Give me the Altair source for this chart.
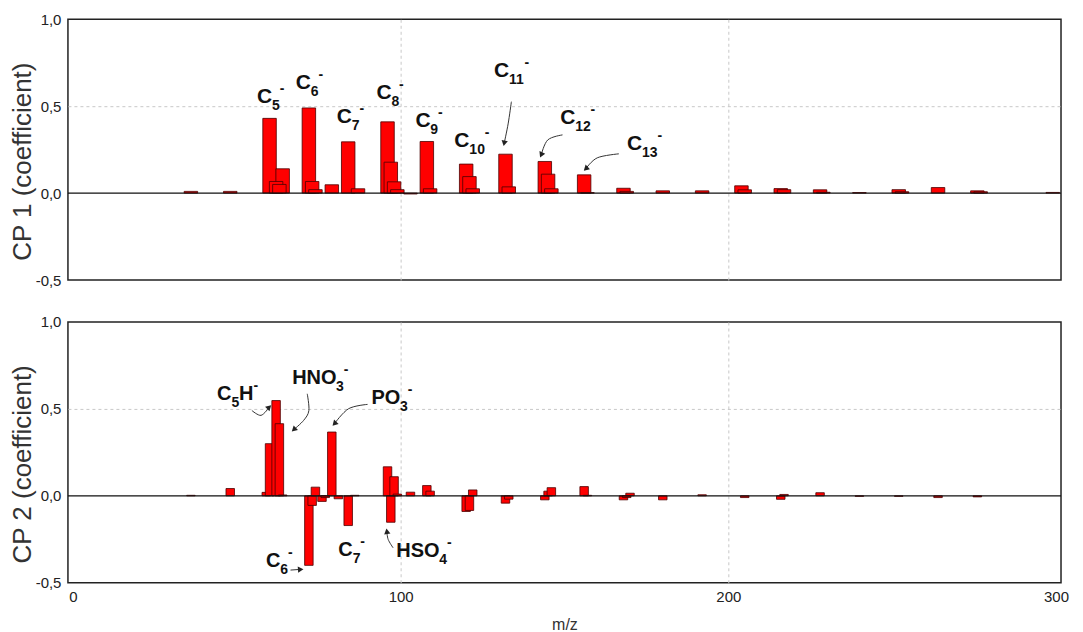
import math
import altair as alt
import pandas as pd

# ---------------- data ----------------
mz_cp1 = [36, 48, 60, 64, 62, 63, 72, 73, 74, 79, 84, 87, 96, 97, 98, 99, 103,
          108, 109, 120, 121, 122, 132, 133, 144, 145, 146, 156, 157, 168, 169,
          180, 192, 204, 205, 216, 217, 228, 229, 240, 252, 253, 264, 276, 277, 299]
cp1 = [0.01, 0.01, 0.43, 0.14, 0.067, 0.05, 0.49, 0.067, 0.02, 0.048, 0.295, 0.025,
       0.41, 0.178, 0.065, 0.02, -0.005, 0.297, 0.025, 0.167, 0.095, 0.025, 0.224,
       0.036, 0.182, 0.109, 0.025, 0.105, 0.003, 0.028, 0.01, 0.013, 0.013, 0.042,
       0.019, 0.026, 0.02, 0.019, 0.005, 0.003, 0.02, 0.008, 0.032, 0.013, 0.008, 0.004]

mz_cp2 = [36, 48, 59, 60, 62, 63, 64, 72, 73, 74, 76, 77, 79, 81, 84, 86,
          96, 97, 98, 99, 103, 108, 109, 120, 121, 122, 132, 133, 144, 145, 146,
          156, 157, 168, 169, 170, 180, 192, 205, 216, 217, 228, 240, 252, 264, 276]
cp2 = [0.003, 0.042, 0.02, 0.30, 0.548, 0.415, 0.005, -0.40, -0.055, 0.05, -0.032,
       -0.01, 0.367, -0.017, -0.171, 0.003, 0.167, -0.152, 0.11, 0.01, 0.021, 0.059,
       0.027, -0.09, -0.084, 0.034, -0.042, -0.019, -0.023, 0.027, 0.047, 0.053,
       0.003, -0.023, -0.01, 0.015, -0.023, 0.006, -0.01, -0.02, 0.008, 0.018,
       -0.003, -0.003, -0.01, -0.006]

x_ticks = [0, 100, 200, 300]
y_ticks = [-0.5, 0.0, 0.5, 1.0]

# annotations: (anchor m/z, anchor value, parts) ; b=base, s=subscript, p=superscript
top_labels = [
    (56.2, 0.516, [("C", "b"), ("5", "s"), ("-", "p")]),
    (68.0, 0.599, [("C", "b"), ("6", "s"), ("-", "p")]),
    (80.5, 0.404, [("C", "b"), ("7", "s"), ("-", "p")]),
    (92.6, 0.540, [("C", "b"), ("8", "s"), ("-", "p")]),
    (104.5, 0.383, [("C", "b"), ("9", "s"), ("-", "p")]),
    (116.4, 0.264, [("C", "b"), ("10", "s"), ("-", "p")]),
    (128.5, 0.670, [("C", "b"), ("11", "s"), ("-", "p")]),
    (148.7, 0.398, [("C", "b"), ("12", "s"), ("-", "p")]),
    (169.1, 0.249, [("C", "b"), ("13", "s"), ("-", "p")]),
]
bottom_labels = [
    (44.0, 0.553, [("C", "b"), ("5", "s"), ("H", "b"), ("-", "p")]),
    (66.9, 0.644, [("HNO", "b"), ("3", "s"), ("-", "p")]),
    (91.1, 0.530, [("PO", "b"), ("3", "s"), ("-", "p")]),
    (58.9, -0.407, [("C", "b"), ("6", "s"), ("-", "p")]),
    (81.0, -0.347, [("C", "b"), ("7", "s"), ("-", "p")]),
    (98.7, -0.353, [("HSO", "b"), ("4", "s"), ("-", "p")]),
]
top_arrows = [
    [(133.8, 0.526), (132.8, 0.398), (131.6, 0.287)],
    [(149.4, 0.335), (144.9, 0.306), (142.9, 0.220)],
    [(166.6, 0.226), (160.0, 0.203), (156.5, 0.140)],
]
bottom_arrows = [
    [(54.6, 0.491), (57.4, 0.463), (59.9, 0.510)],
    [(71.5, 0.587), (72.0, 0.491), (70.4, 0.434), (67.4, 0.381)],
    [(89.9, 0.526), (84.1, 0.501), (79.8, 0.415)],
    [(66.4, -0.427), (69.5, -0.423)],
    [(97.7, -0.299), (96.2, -0.251), (95.8, -0.204)],
]

# ---------------- layout ----------------
W, H = 994, 261
PXX = W / 300.0
PXY = H / 1.5
SUB = 14
CW = {"C": 0.722, "H": 0.722, "N": 0.722, "O": 0.778, "P": 0.667, "S": 0.667, "-": 0.333}
FONT = "Liberation Sans"


def text_w(t, size):
    return sum(CW.get(c, 0.556) for c in t) * size


def label_df(labels, base):
    rows = []
    for ax, ay, parts in labels:
        off = 0.0
        for t, k in parts:
            rows.append({"x": ax + off / PXX, "y": ay, "t": t, "k": k})
            off += text_w(t, base if k == "b" else SUB)
    return pd.DataFrame(rows)


def arrow_dfs(arrows):
    rows, heads = [], []
    for i, pts in enumerate(arrows):
        for j, (x, y) in enumerate(pts):
            rows.append({"x": x, "y": y, "id": i, "o": j})
        (x1, y1), (x2, y2) = pts[-2], pts[-1]
        sx, sy = (x2 - x1) * PXX, -(y2 - y1) * PXY
        ang = math.degrees(math.atan2(sx, -sy)) % 360
        heads.append({"x": x2, "y": y2, "a": ang})
    return pd.DataFrame(rows), pd.DataFrame(heads)


ylab = "replace(replace(format(datum.value, '.1f'), '.', ','), '\u2212', '-')"
y_grid_op = {"condition": {"test": "abs(datum.value - 0.5) < 0.01", "value": 1}, "value": 0}
x_grid_op = {"condition": {"test": "datum.value == 100 || datum.value == 200", "value": 1}, "value": 0}


def panel(mz, cp, bar_w, labels, arrows, base, ytitle, show_x):
    xs = alt.Scale(domain=[0, 300], nice=False, zero=False)
    ys = alt.Scale(domain=[-0.5, 1.0], nice=False)
    if show_x:
        xax = alt.Axis(values=x_ticks, grid=True, gridOpacity=x_grid_op, labels=True,
                       labelPadding=7, titleFontSize=16, titlePadding=12,
                       titleFontWeight="normal", titleColor="#333", format="d")
        X = alt.X("x:Q", scale=xs, axis=xax, title="m/z")
    else:
        xax = alt.Axis(values=x_ticks, grid=True, gridOpacity=x_grid_op, labels=False)
        X = alt.X("x:Q", scale=xs, axis=xax, title=None)
    yax = alt.Axis(values=y_ticks, grid=True, gridOpacity=y_grid_op, labelExpr=ylab,
                   labelPadding=7, titleFontSize=26, titleFontWeight="normal",
                   titleColor="#333", titlePadding=0, titleY=142)
    Y = alt.Y("y:Q", scale=ys, axis=yax, title=ytitle)

    bars = alt.Chart(pd.DataFrame({"x": mz, "y": cp})).mark_bar(
        size=bar_w, fill="#ff0000", stroke="#4a0000", strokeWidth=0.8, clip=True
    ).encode(x=X, y=Y, y2=alt.datum(0))

    zero = alt.Chart(pd.DataFrame({"y": [0.0]})).mark_rule(
        color="#111", strokeWidth=1.3).encode(y=Y)

    ldf, hdf = arrow_dfs(arrows)
    lines = alt.Chart(ldf).mark_line(interpolate="cardinal", color="#333",
                                     strokeWidth=1).encode(
        x=X, y=Y, detail="id:N", order="o:Q")
    heads = alt.Chart(hdf).mark_point(shape="triangle-up", filled=True, size=40,
                                      color="#222", opacity=1).encode(
        x=X, y=Y, angle=alt.Angle("a:Q", scale=None))

    tdf = label_df(labels, base)
    tb = alt.Chart(tdf).transform_filter(alt.datum.k == "b").mark_text(
        align="left", baseline="alphabetic", fontSize=base, fontWeight="bold",
        font=FONT, color="#111").encode(x=X, y=Y, text="t:N")
    ts = alt.Chart(tdf).transform_filter(alt.datum.k == "s").mark_text(
        align="left", baseline="alphabetic", fontSize=SUB, fontWeight="bold",
        font=FONT, color="#111", dy=7).encode(x=X, y=Y, text="t:N")
    tp = alt.Chart(tdf).transform_filter(alt.datum.k == "p").mark_text(
        align="left", baseline="alphabetic", fontSize=SUB, fontWeight="bold",
        font=FONT, color="#111", dy=-10).encode(x=X, y=Y, text="t:N")

    return alt.layer(bars, zero, lines, heads, tb, ts, tp).properties(width=W, height=H)


top = panel(mz_cp1, cp1, 13.5, top_labels, top_arrows, 21, "CP 1 (coefficient)", False)
bottom = panel(mz_cp2, cp2, 8.5, bottom_labels, bottom_arrows, 20, "CP 2 (coefficient)", True)

chart = alt.vconcat(top, bottom, spacing=25).properties(
    padding={"left": 0, "top": 3, "right": 5, "bottom": 0}
).configure(font=FONT).configure_view(
    stroke="#222", strokeWidth=1.5
).configure_axis(
    labelFont=FONT, labelFontSize=15, labelColor="#222", titleFont=FONT,
    ticks=False, domain=False, gridColor="#c8c8c8", gridDash=[3, 3], gridWidth=1
)

chart.save("out.html", embed_options={"renderer": "svg", "actions": False})
